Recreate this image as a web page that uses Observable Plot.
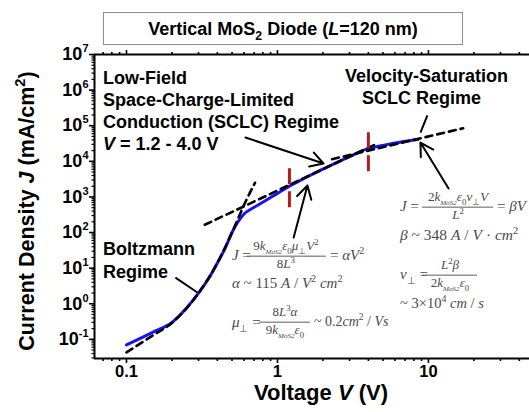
<!DOCTYPE html>
<html><head><meta charset="utf-8">
<script src="https://cdn.jsdelivr.net/npm/d3@7"></script>
<script src="https://cdn.jsdelivr.net/npm/@observablehq/plot@0.6"></script>
<style>body{margin:0;background:#fff}svg{display:block}</style>
</head><body><div id="chart"></div>
<script>
// ---- data ----
const voltage = [0.1, 0.15, 0.2, 0.25, 0.3, 0.35, 0.4, 0.45, 0.5, 0.6, 0.7, 0.8, 1.0, 1.2, 1.5, 2.0, 3.0, 4.0, 5.0, 6.0, 7.0, 8.5];
const currentDensity = [0.07, 0.16, 0.3, 0.76, 2.0, 5.1, 14, 36, 100, 330, 510, 710, 1260, 2000, 3300, 6000, 13500, 23000, 28000, 32500, 36500, 41000];
const boltzmannV = [0.1, 0.15, 0.2, 0.3, 0.4, 0.5, 0.6, 0.71];
const boltzmannJ = [0.043, 0.13, 0.29, 2.0, 14, 100, 590, 2500];
const sclcV = [0.33, 4.5];
const sclcJ = [165, 30400];
const satV = [2.3, 17];
const satJ = [11500, 85000];
const regimeV = [1.2, 4.0];
const regimeJlow = [500, 5100];
const regimeJhigh = [6300, 65000];
const xTicks = [0.1, 1, 10];
const xMinor = [0.07, 0.08, 0.09, 0.2, 0.3, 0.4, 0.5, 0.6, 0.7, 0.8, 0.9, 2, 3, 4, 5, 6, 7, 8, 9, 20, 30, 40];
const yTicks = [0.1, 1, 10, 100, 1e3, 1e4, 1e5, 1e6, 1e7];
const yMinor = [0.03,0.04,0.05,0.06,0.07,0.08,0.09].concat(...[-1,0,1,2,3,4,5,6].map(k => [2,3,4,5,6,7,8,9].map(m => m * 10 ** k)));
const xDomain = [0.0614, 46.7];
const yDomain = [0.029, 1e7];
// annotation pointers (data coordinates)
const arrowsHead = [
  {x1: 0.614, y1: 46700, x2: 2.02, y2: 8670},
  {x1: 1.28, y1: 72, x2: 1.58, y2: 2090},
  {x1: 13.6, y1: 1720, x2: 8.85, y2: 33700}
];
const arrowsPlain = [
  {x1: 0.211, y1: 5.4, x2: 0.295, y2: 2.07},
  {x1: 9.84, y1: 194000, x2: 8.85, y2: 64400}
];

const rows = (xs, ys) => xs.map((v, i) => ({V: v, J: ys[i]}));
const SANS = "Liberation Sans, Arial, sans-serif";
const SERIF = "Liberation Serif, Times New Roman, serif";

const plot = Plot.plot({
  width: 529, height: 412,
  marginLeft: 94, marginRight: 0, marginTop: 54, marginBottom: 54,
  style: {fontFamily: SANS, background: "white", overflow: "visible"},
  x: {type: "log", domain: xDomain},
  y: {type: "log", domain: yDomain},
  marks: [
    Plot.line(rows(voltage, currentDensity), {x: "V", y: "J", stroke: "#1414f5", strokeWidth: 3, curve: "monotone-x"}),
    Plot.line(rows(boltzmannV, boltzmannJ), {x: "V", y: "J", stroke: "black", strokeWidth: 2.6, strokeDasharray: "7,5", curve: "monotone-x"}),
    Plot.line(rows(sclcV, sclcJ), {x: "V", y: "J", stroke: "black", strokeWidth: 2.6, strokeDasharray: "7,5"}),
    Plot.line(rows(satV, satJ), {x: "V", y: "J", stroke: "black", strokeWidth: 2.6, strokeDasharray: "7,5"}),
    Plot.ruleX(regimeV.map((v, i) => ({V: v, lo: regimeJlow[i], hi: regimeJhigh[i]})), {x: "V", y1: "lo", y2: "hi", stroke: "#b51a1f", strokeWidth: 3, strokeDasharray: "16,7"}),
    Plot.arrow(arrowsHead, {x1: "x1", y1: "y1", x2: "x2", y2: "y2", stroke: "black", strokeWidth: 2, headLength: 11}),
    Plot.link(arrowsPlain, {x1: "x1", y1: "y1", x2: "x2", y2: "y2", stroke: "black", strokeWidth: 2}),
    Plot.ruleX([xDomain[0]], {stroke: "black", strokeWidth: 2}),
    Plot.ruleY([yDomain[0], yDomain[1]], {stroke: "black", strokeWidth: 2}),
    Plot.axisX(xTicks, {anchor: "bottom", tickSize: 5, tickPadding: 2, strokeWidth: 1.6, fontSize: 16.5, fontWeight: "bold", tickFormat: d => String(d), label: null}),
    Plot.axisX(xMinor, {anchor: "bottom", tickSize: 3, strokeWidth: 1.6, tickFormat: () => "", label: null}),
    Plot.axisX(xTicks, {anchor: "top", tickSize: 5, strokeWidth: 1.6, tickFormat: () => "", label: null}),
    Plot.axisX(xMinor, {anchor: "top", tickSize: 3, strokeWidth: 1.6, tickFormat: () => "", label: null}),
    Plot.axisY(yTicks, {anchor: "left", tickSize: 5, tickPadding: 1, strokeWidth: 1.6, fontSize: 18, fontWeight: "bold", tickFormat: d => "10^" + Math.round(Math.log10(d)), label: null}),
    Plot.axisY(yMinor, {anchor: "left", tickSize: 2.5, strokeWidth: 1.2, tickFormat: () => "", label: null})
  ]
});
document.getElementById("chart").append(plot);
const svg = d3.select(plot);
const X = plot.scale("x"), Y = plot.scale("y");

// y tick labels: 10 with superscript exponent
svg.selectAll("text").each(function () {
  const m = /^10\^(-?\d+)$/.exec(this.textContent);
  if (!m) return;
  this.textContent = "";
  const t = d3.select(this);
  t.append("tspan").text("10");
  t.append("tspan").text(m[1]).attr("font-size", 11).attr("dy", -8);
});

function rich(parent, x, y, segs, o = {}) {
  const size = o.size || 13;
  const t = parent.append("text").attr("x", x).attr("y", y)
    .attr("font-family", o.family || SERIF).attr("font-size", size)
    .attr("fill", o.fill || "#4a4a4a").attr("font-weight", o.weight || "normal")
    .attr("text-anchor", o.anchor || "start").attr("transform", o.transform || null);
  let shift = 0;
  for (const s of segs) {
    const [txt, f] = typeof s === "string" ? [s, ""] : s;
    const sub = f.includes("_"), sup = f.includes("^");
    const target = sub ? size * 0.3 : sup ? -size * 0.42 : 0;
    const sp = t.append("tspan").text(txt);
    if (target !== shift) sp.attr("dy", target - shift);
    shift = target;
    if (f.includes("i")) sp.attr("font-style", "italic");
    if (sub || sup) sp.attr("font-size", size * (f.includes("s") ? 0.55 : 0.68));
  }
  return t;
}
const g = svg.append("g");

// title box
g.append("rect").attr("x", 103.5).attr("y", 12.5).attr("width", 359).attr("height", 32)
  .attr("fill", "white").attr("stroke", "#8c8c8c").attr("stroke-width", 1);
rich(g, 283, 35, ["Vertical MoS", ["2", "_"], " Diode (", ["L", "i"], "=120 nm)"],
  {family: SANS, size: 18, weight: "bold", fill: "black", anchor: "middle"});

// axis titles
rich(g, 321, 400, ["Voltage ", ["V", "i"], " (V)"], {family: SANS, size: 22, weight: "bold", fill: "black", anchor: "middle"});
rich(g, 0, 0, ["Current Density ", ["J", "i"], " (mA/cm", ["2", "^"], ")"],
  {family: SANS, size: 21.5, weight: "bold", fill: "black", anchor: "middle", transform: "translate(34,211) rotate(-90)"});

// regime labels (anchored at data coordinates)
const bold = {family: SANS, size: 18, weight: "bold", fill: "black"};
const lf = [X.apply(0.0705), Y.apply(1.44e6)];
rich(g, lf[0], lf[1], ["Low-Field"], bold);
rich(g, lf[0], lf[1] + 22, ["Space-Charge-Limited"], bold);
rich(g, lf[0], lf[1] + 44, ["Conduction (SCLC) Regime"], bold);
rich(g, lf[0], lf[1] + 66, [["V", "i"], " = 1.2 - 4.0 V"], bold);
const vs = [X.apply(2.82), Y.apply(1.6e6)];
rich(g, vs[0], vs[1], ["Velocity-Saturation"], bold);
rich(g, vs[0] + 17, vs[1] + 22, ["SCLC Regime"], bold);
const bz = [X.apply(0.0705), Y.apply(22.6)];
rich(g, bz[0], bz[1], ["Boltzmann"], bold);
rich(g, bz[0], bz[1] + 23, ["Regime"], bold);

// equations
function frac(cx, by, num, den, x0, x1, size) {
  rich(g, cx, by - 6, num, {anchor: "middle", size});
  g.append("line").attr("x1", x0).attr("x2", x1).attr("y1", by).attr("y2", by).attr("stroke", "#4a4a4a").attr("stroke-width", 0.9);
  rich(g, cx, by + 12, den, {anchor: "middle", size});
}
const e1 = [X.apply(0.503), Y.apply(21)];
{
  const [ax, ay] = e1;
  rich(g, ax, ay + 4, [["J", "i"], " ="], {size: 15});
  frac(ax + 54, ay, ["9", ["k", "i"], ["MoS2", "_is"], ["ε", "i"], ["0", "_"], ["μ", "i"], ["⊥", "_"], ["V", "i"], ["2", "^"]],
    ["8", ["L", "i"], ["3", "^"]], ax + 15, ax + 94, 13);
  rich(g, ax + 98, ay + 4, ["= ", ["αV", "i"], ["2", "^"]], {size: 15});
  rich(g, ax, ay + 32, [["α", "i"], " ~ 115 ", ["A", "i"], " / ", ["V", "i"], ["2", "^"], " ", ["cm", "i"], ["2", "^"]], {size: 15});
  rich(g, ax, ay + 71, [["μ", "i"], ["⊥", "_"], " ="], {size: 15});
  frac(ax + 53, ay + 66, ["8", ["L", "i"], ["3", "^"], ["α", "i"]], ["9", ["k", "i"], ["MoS2", "_is"], ["ε", "i"], ["0", "_"]], ax + 27, ax + 78, 13);
  rich(g, ax + 82, ay + 70, ["~ 0.2", ["cm", "i"], ["2", "^"], " / ", ["Vs", "i"]], {size: 14});
}
const e2 = [X.apply(6.53), Y.apply(500)];
{
  const [ax, ay] = e2;
  rich(g, ax, ay + 4, [["J", "i"], " ="], {size: 15});
  frac(ax + 58, ay, ["2", ["k", "i"], ["MoS2", "_is"], ["ε", "i"], ["0", "_"], ["v", "i"], ["⊥", "_"], ["V", "i"]],
    [["L", "i"], ["2", "^"]], ax + 22, ax + 93, 13);
  rich(g, ax + 97, ay + 4, ["= ", ["βV", "i"]], {size: 15});
  rich(g, ax, ay + 33, [["β", "i"], " ~ 348 ", ["A", "i"], " / ", ["V", "i"], " · ", ["cm", "i"], ["2", "^"]], {size: 15.5});
  rich(g, ax, ay + 72, [["v", "i"], ["⊥", "_"], " ="], {size: 15});
  frac(ax + 50, ay + 68, [["L", "i"], ["2", "^"], ["β", "i"]], ["2", ["k", "i"], ["MoS2", "_is"], ["ε", "i"], ["0", "_"]], ax + 22, ax + 77, 13);
  rich(g, ax, ay + 101, ["~ 3×10", ["4", "^"], " ", ["cm", "i"], " / ", ["s", "i"]], {size: 14.5});
}
</script></body></html>
